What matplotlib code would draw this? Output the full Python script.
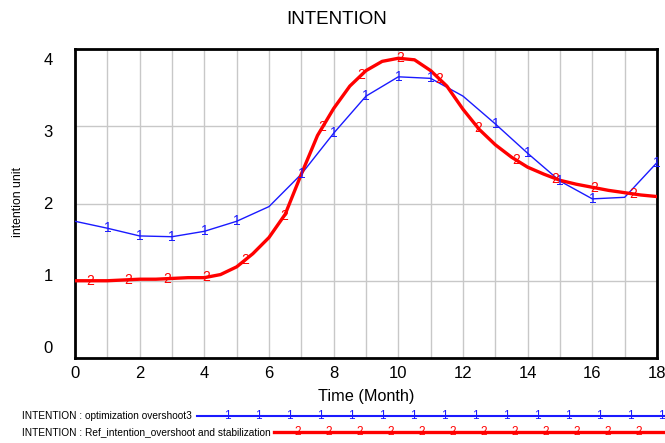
import numpy as np
import matplotlib
matplotlib.use("Agg")
from matplotlib import pyplot as plt
from matplotlib.lines import Line2D

plt.rcParams["font.family"] = ["Liberation Sans", "DejaVu Sans"]

# Run 1: optimization overshoot3 (monthly values)
t_opt = list(range(19))
opt_vals = [1.77, 1.68, 1.58, 1.57, 1.64, 1.77, 1.96, 2.38, 2.91, 3.39,
            3.64, 3.62, 3.39, 3.03, 2.65, 2.29, 2.06, 2.08, 2.53]
opt_marks = [1, 2, 3, 4, 5, 7, 8, 9, 10, 11, 13, 14, 15, 16, 18]

# Run 2: Ref_intention_overshoot and stabilization (half-month samples)
t_ref = [0, 0.5, 1, 1.5, 2, 2.5, 3, 3.5, 4, 4.5, 5, 5.5, 6, 6.5, 7, 7.5,
         8, 8.5, 9, 9.5, 10, 10.5, 11, 11.5, 12, 12.5, 13, 13.5, 14, 14.5,
         15, 15.5, 16, 16.5, 17, 17.5, 18]
ref_vals = [1.00, 1.00, 1.00, 1.01, 1.02, 1.02, 1.03, 1.04, 1.04, 1.08,
            1.18, 1.35, 1.56, 1.86, 2.38, 2.88, 3.23, 3.52, 3.72, 3.84,
            3.88, 3.86, 3.72, 3.52, 3.22, 2.96, 2.76, 2.60, 2.47, 2.38,
            2.30, 2.25, 2.21, 2.17, 2.14, 2.11, 2.09]
ref_marks = [0.46, 1.66, 2.86, 4.06, 5.26, 6.46, 7.66, 8.86, 10.06, 11.26,
             12.46, 13.66, 14.86, 16.06, 17.26]

y_ticks = [0, 1, 2, 3, 4]
x_ticks = list(range(0, 19, 2))

blue = "#1a1aff"
red = "#ff0000"
W, H = 665, 443

fig = plt.figure(figsize=(W / 100, H / 100), dpi=100)
ax = fig.add_axes([75 / W, 1 - 358 / H, 582 / W, 309 / H])

ax.plot(t_opt, opt_vals, color=blue, lw=1.0, zorder=3)
ax.plot(t_ref, ref_vals, color=red, lw=2.4, zorder=3)

for t in opt_marks:
    ax.text(t, np.interp(t, t_opt, opt_vals), "1", color=blue, fontsize=10,
            ha="center", va="center", zorder=4)
for t in ref_marks:
    ax.text(t, np.interp(t, t_ref, ref_vals), "2", color=red, fontsize=10,
            ha="center", va="center", zorder=4)

ax.set_xlim(0, 18)
ax.set_ylim(0, 4)
ax.set_xticks(x_ticks)
ax.set_xticks(range(19), minor=True)
ax.set_yticks(y_ticks)
ax.set_yticklabels([])
ax.grid(True, which="both", color="#c8c8c8", lw=1.0)
ax.tick_params(which="both", length=0, pad=6)
ax.tick_params(axis="x", labelsize=12)
for s in ax.spines.values():
    s.set_linewidth(2)
    s.set_color("black")

# y labels sit on a slightly compressed scale, inside the gridline span
for v in y_ticks:
    ax.text(-0.038, (0.117 + 0.935 * v) / 4, str(v), transform=ax.transAxes,
            fontsize=12, ha="right", va="center")

fig.text(0.5 * (75 + 657) / W, 1 - 396 / H, "Time (Month)", fontsize=11.7,
         ha="center", va="center")
fig.text(18 / W, 1 - 202 / H, "intention unit", fontsize=8.8, rotation=90,
         ha="center", va="center")
fig.text(337 / W, 1 - 20 / H, "INTENTION", fontsize=13.5,
         ha="center", va="center")

# legend rows below the plot
rows = [
    ("INTENTION : optimization overshoot3", blue, "1", 197, 416, 1.5,
     [227, 258, 289, 320, 351, 382, 413, 444, 475, 506, 537, 568, 599, 630, 661]),
    ("INTENTION : Ref_intention_overshoot and stabilization", red, "2", 274, 432, 2.4,
     [298, 329, 360, 391, 422, 453, 484, 515, 546, 577, 608, 639]),
]
for label, col, mk, x0, y, lw, marks in rows:
    fy = 1 - y / H
    fig.text(22 / W, fy, label, fontsize=7.25, ha="left", va="center")
    fig.add_artist(Line2D([x0 / W, 1.0], [fy, fy], color=col, lw=lw,
                          transform=fig.transFigure))
    for mx in marks:
        fig.text(mx / W, fy, mk, color=col, fontsize=8.5, ha="center",
                 va="center")

fig.savefig("out.png", dpi=100)
